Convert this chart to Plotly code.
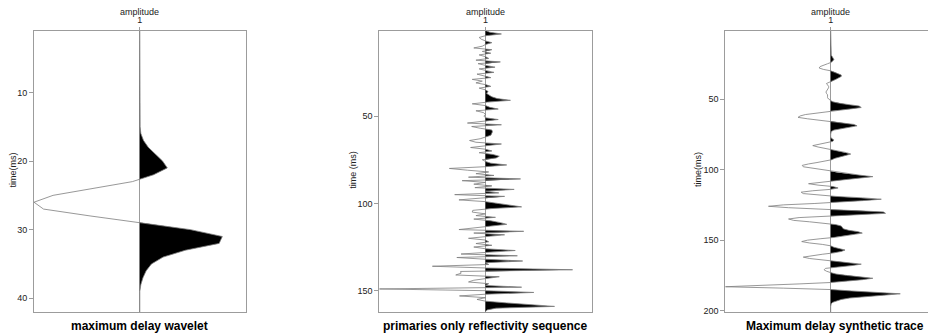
import plotly.graph_objects as go

# ---------------- data ----------------
wavelet_t0 = 1
wavelet = [0, 0, 0, 0, 0, 0, 0, 0, 0, 0,
           0, 0, 0, 0, 0.003, 0.01, 0.035, 0.08, 0.15, 0.215,
           0.26, 0.13, -0.07, -0.45, -0.82, -1.0, -0.91, -0.47, 0.02, 0.48,
           0.78, 0.75, 0.43, 0.22, 0.11, 0.06, 0.03, 0.01, 0.0, 0,
           0, 0]

reflect_t0 = 1
reflectivity = [
    0, 0.04, 0.15, 0.0, -0.06, -0.04, 0.0, 0.06, 0.0, -0.03,
    -0.11, 0.06, -0.03, 0.05, -0.06, 0.0, 0.03, -0.09, 0.14, -0.07,
    0.0, 0.09, -0.06, 0.0, 0.08, -0.08, 0.0, 0.05, -0.125, -0.03,
    -0.09, 0.0, 0.05, -0.06, 0.0, 0.025, 0.01, 0.03, 0.06, 0.11,
    0.235, 0.02, -0.125, 0.0, 0.04, 0.12, -0.09, -0.02, 0.0, -0.015,
    0.0, 0.12, 0.0, -0.17, 0.15, -0.13, -0.05, 0.06, 0.065, 0.06,
    0.05, 0.0, -0.05, -0.15, -0.09, 0.15, 0.0, -0.14, 0.0, 0.06,
    -0.06, 0.07, 0.13, 0.1, -0.03, 0.0, 0.05, 0.2, 0.0, -0.34,
    -0.17, 0.03, -0.09, 0.08, -0.16, 0.33, -0.22, 0.0, -0.11, 0.06,
    -0.1, 0.27, 0.0, 0.125, -0.29, 0.18, -0.05, -0.25, 0.0, 0.1,
    0.2, 0.34, 0.05, -0.12, -0.125, 0.0, -0.09, 0.094, -0.11, 0.05,
    0.14, 0.2, 0.05, -0.1, -0.25, 0.36, -0.11, 0.18, 0.0, -0.16,
    0.0, 0.03, -0.09, 0.06, -0.11, 0.0, 0.28, 0.0, -0.23, 0.3,
    -0.27, 0.0, 0.35, 0.0, 0.03, -0.5, 0.0, 0.82, -0.235, -0.23,
    -0.28, 0.13, 0.0, -0.11, -0.16, 0.03, 0.0, 0.34, -1.0, 0.0,
    0.455, 0.0, -0.245, 0.0, -0.08, 0.0, 0.2, 0.4, 0.65, 0.1,
    0.015, 0.0]

synth_t0 = 1
synthetic = [
    0, 0, 0, 0, 0, 0, 0, 0, 0, 0,
    0, 0, 0, 0, 0, 0, 0, 0, 0.005, 0.015,
    0.025, 0.03, 0.02, 0.005, -0.03, -0.07, -0.1, -0.11, -0.07, 0.0,
    0.04, 0.08, 0.1, 0.1, 0.08, 0.05, 0.02, -0.02, -0.04, -0.03,
    -0.02, -0.02, -0.03, -0.04, -0.045, -0.04, -0.03, -0.03, -0.03, -0.02,
    -0.005, 0.02, 0.08, 0.17, 0.27, 0.29, 0.19, 0.06, -0.06, -0.16,
    -0.24, -0.29, -0.31, -0.22, -0.1, 0.02, 0.12, 0.22, 0.25, 0.17,
    0.08, 0.03, 0.005, 0.0, 0.0, 0.0, 0.0, 0.01, 0.03, 0.02,
    -0.04, -0.12, -0.17, -0.12, -0.05, 0.01, 0.08, 0.15, 0.19, 0.14,
    0.08, 0.04, 0.01, -0.05, -0.13, -0.21, -0.27, -0.26, -0.17, -0.08,
    -0.01, 0.06, 0.15, 0.28, 0.40, 0.3, 0.15, 0.03, -0.13, -0.21,
    -0.12, 0.02, 0.07, 0.0, -0.17, -0.28, -0.26, -0.12, 0.05, 0.3,
    0.48, 0.3, 0.1, -0.15, -0.45, -0.59, -0.4, -0.1, 0.25, 0.5,
    0.52, 0.25, -0.05, -0.3, -0.4, -0.35, -0.2, -0.05, 0.05, 0.1,
    0.11, 0.12, 0.17, 0.26, 0.30, 0.22, 0.12, 0.04, -0.1, -0.22,
    -0.275, -0.2, -0.08, 0.0, 0.03, 0.08, 0.136, 0.1, 0.03, -0.08,
    -0.2, -0.26, -0.2, -0.07, 0.05, 0.2, 0.29, 0.2, 0.06, -0.05,
    -0.063, -0.04, 0.0, 0.05, 0.15, 0.3, 0.4, 0.3, 0.14, 0.0,
    -0.3, -0.75, -1.0, -0.45, 0.0, 0.2, 0.45, 0.66, 0.5, 0.3,
    0.18, 0.1, 0.05, 0.02, 0.005, 0, 0, 0, 0, 0,
    0]

panel_titles = ["maximum delay wavelet",
                "primaries only reflectivity sequence",
                "Maximum delay synthetic trace"]
y_titles = ["time(ms)", "time (ms)", "time(ms)"]
top_title = "amplitude"
trace_number = 1

# ---------------- layout geometry ----------------
W, H = 928, 335
ML, MR, MT, MB = 34, 0, 31, 23
PW, PH = W - ML - MR, H - MT - MB


def px_x(p):
    return (p - ML) / PW


def px_y(p):
    return (H - MB - p) / PH


FONT = "Liberation Sans, Arial, Helvetica, sans-serif"
GRAY = "#9c9c9c"
LINE = "#7d7d7d"

domains = [[px_x(34), px_x(245.6)], [px_x(379.3), px_x(591.7)], [px_x(725.3), 1.0]]
xranges = [[0, 2], [0, 2], [0, 1 + (928 - 830.7) / 105.4]]
yranges = [[42, 1.05], [162.2, 1.3], [200.9, 1.8]]
ydticks = [10, 50, 50]
centers_px = [139.7, 485.7, 830.7]
ytitle_px = [12.5, 352.7, 698]


def wiggle(t0, vals):
    m = max(abs(v) for v in vals)
    a = [v / m for v in vals]
    t = [t0 + i for i in range(len(a))]
    xs, ys = [trace_number], [t[0]]
    for i in range(len(a)):
        if i > 0 and a[i - 1] * a[i] < 0:
            tc = t[i - 1] + (t[i] - t[i - 1]) * a[i - 1] / (a[i - 1] - a[i])
            xs.append(trace_number)
            ys.append(tc)
        xs.append(trace_number + max(a[i], 0))
        ys.append(t[i])
    xs.append(trace_number)
    ys.append(t[-1])
    line_x = [trace_number + v for v in a]
    return xs, ys, line_x, t


fig = go.Figure()
series = [(wavelet_t0, wavelet), (reflect_t0, reflectivity), (synth_t0, synthetic)]
for k, (t0, vals) in enumerate(series):
    xs, ys, lx, t = wiggle(t0, vals)
    ax = "" if k == 0 else str(k + 1)
    fig.add_trace(go.Scatter(x=xs, y=ys, mode="lines", fill="toself",
                             fillcolor="black", line=dict(width=0, color="black"),
                             hoverinfo="skip", showlegend=False,
                             xaxis="x" + ax, yaxis="y" + ax))
    fig.add_trace(go.Scatter(x=lx, y=t, mode="lines",
                             line=dict(width=0.8, color=LINE),
                             showlegend=False, xaxis="x" + ax, yaxis="y" + ax))

layout = dict(width=W, height=H, autosize=False,
              margin=dict(l=ML, r=MR, t=MT, b=MB, pad=0),
              paper_bgcolor="white", plot_bgcolor="white",
              font=dict(family=FONT, size=9, color="#222"),
              showlegend=False)

for k in range(3):
    sfx = "" if k == 0 else str(k + 1)
    layout["xaxis" + sfx] = dict(
        domain=domains[k], range=xranges[k], side="top",
        anchor="y" + sfx, tickmode="array", tickvals=[trace_number],
        ticktext=[str(trace_number)], ticks="outside", ticklen=3,
        tickcolor=GRAY, showgrid=True, gridcolor=GRAY, gridwidth=1,
        zeroline=False, showline=True, linecolor=GRAY, linewidth=1,
        mirror=True, tickfont=dict(size=9, color="#222"), fixedrange=True)
    layout["yaxis" + sfx] = dict(
        domain=[0, 1], range=yranges[k], anchor="x" + sfx,
        dtick=ydticks[k], tick0=0, ticks="outside", ticklen=4,
        tickcolor=GRAY, showgrid=False, zeroline=False, showline=True,
        linecolor=GRAY, linewidth=1, mirror=(k < 2),
        tickfont=dict(size=9, color="#222"), fixedrange=True)

anns = []
for k in range(3):
    anns.append(dict(text=top_title, x=px_x(centers_px[k]), y=px_y(12.5),
                     xref="paper", yref="paper", showarrow=False,
                     xanchor="center", yanchor="middle",
                     font=dict(size=9, color="#222")))
    anns.append(dict(text=y_titles[k], x=px_x(ytitle_px[k]), y=px_y(170),
                     xref="paper", yref="paper", showarrow=False,
                     textangle=-90, xanchor="center", yanchor="middle",
                     font=dict(size=9, color="#222")))
bottom_px = [139.7, 485.5, 835]
for k in range(3):
    anns.append(dict(text="<b>" + panel_titles[k] + "</b>",
                     x=px_x(bottom_px[k]), y=px_y(325.5),
                     xref="paper", yref="paper", showarrow=False,
                     xanchor="center", yanchor="middle",
                     font=dict(size=12, color="black")))
layout["annotations"] = anns

fig.update_layout(**layout)
fig.write_html("out.html")
